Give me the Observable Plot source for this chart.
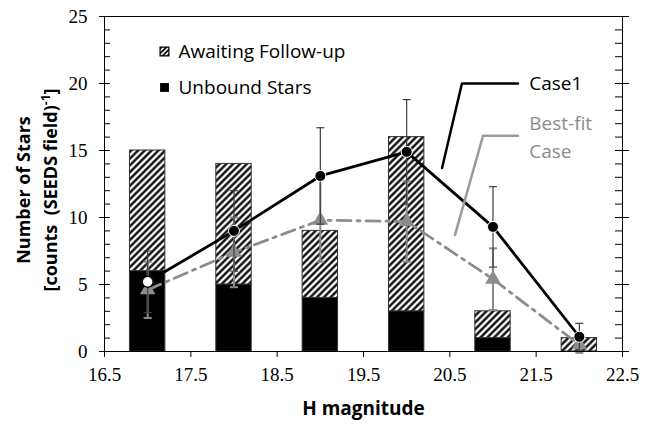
<!DOCTYPE html>
<html><head><meta charset="utf-8">
<script src="https://cdn.jsdelivr.net/npm/d3@7"></script>
<script src="https://cdn.jsdelivr.net/npm/@observablehq/plot@0.6"></script>
<style>body{margin:0;background:#fff} svg{display:block;background:#fff}</style>
</head><body><div id="chart"></div>
<script>
// ---- data ----
const hMag       = [17, 18, 19, 20, 21, 22];
const unbound    = [6, 5, 4, 3, 1, 0];
const awaiting   = [9, 9, 5, 13, 2, 1];
const case1      = [5.2, 9.0, 13.1, 14.9, 9.3, 1.1];
const case1Err   = [2.3, 3.0, 3.6, 3.9, 3.0, 1.0];
const bestFit    = [4.6, 7.4, 9.8, 9.7, 5.4, 0.5];
const bestFitErr = [2.1, 2.6, 3.1, 3.0, 2.3, 0.6];
const xTicks = [16.5, 17.5, 18.5, 19.5, 20.5, 21.5, 22.5];
const yTicks = [0, 5, 10, 15, 20, 25];
const yMinor = [1,2,3,4,6,7,8,9,11,12,13,14,16,17,18,19,21,22,23,24];
const legendLabels = ["Awaiting Follow-up", "Unbound Stars"];
const case1Label = "Case1";
const bestLabel = "Best-fit\nCase";
// annotation leader lines in data coordinates
const case1Leader = [[21.29, 20.0], [20.64, 20.0], [20.41, 13.7]];
const bestLeader  = [[21.29, 16.1], [20.885, 16.1], [20.56, 8.7]];

const rows = hMag.map((h, i) => ({
  h, unbound: unbound[i], total: unbound[i] + awaiting[i],
  c1: case1[i], c1lo: case1[i] - case1Err[i], c1hi: case1[i] + case1Err[i],
  bf: bestFit[i], bflo: bestFit[i] - bestFitErr[i], bfhi: bestFit[i] + bestFitErr[i]
}));

const half = 0.205;
const cap = {draw(ctx, size) { const w = Math.sqrt(size / Math.PI); ctx.moveTo(-w, 0); ctx.lineTo(w, 0); }};
const sans = "Open Sans";
const serif = "Liberation Serif";
const grayLine = "#8c8c8c";
const noText = () => "";

const plot = Plot.plot({
  width: 654, height: 429,
  marginLeft: 104, marginRight: 32, marginTop: 16, marginBottom: 78,
  style: {fontFamily: serif, fontSize: "19px", color: "black", background: "white"},
  x: {domain: [16.5, 22.5]},
  y: {domain: [0, 25]},
  marks: [
    Plot.rect(rows, {x1: d => d.h - half, x2: d => d.h + half, y1: 0, y2: "unbound", fill: "black", stroke: "#333", strokeWidth: 1}),
    Plot.rect(rows, {x1: d => d.h - half, x2: d => d.h + half, y1: "unbound", y2: "total", fill: "url(#hatch)", stroke: "#333", strokeWidth: 1}),
    // best-fit error bars
    Plot.ruleX(rows, {x: "h", y1: "bflo", y2: "bfhi", stroke: "#8a8a8a", strokeWidth: 2}),
    Plot.dot(rows, {x: "h", y: "bflo", symbol: cap, r: 4, stroke: "#8a8a8a", strokeWidth: 2, fill: "none"}),
    Plot.dot(rows, {x: "h", y: "bfhi", symbol: cap, r: 4, stroke: "#8a8a8a", strokeWidth: 2, fill: "none"}),
    // best-fit line
    Plot.line(rows, {x: "h", y: "bf", stroke: grayLine, strokeWidth: 2.8, strokeDasharray: "14,6,3,6"}),
    Plot.dot(rows, {x: "h", y: "bf", symbol: "triangle", r: 5.8, fill: grayLine}),
    // case1 error bars
    Plot.ruleX(rows, {x: "h", y1: "c1lo", y2: "c1hi", stroke: "#404040", strokeWidth: 1.2}),
    Plot.dot(rows, {x: "h", y: "c1lo", symbol: cap, r: 4, stroke: "#404040", strokeWidth: 1.2, fill: "none"}),
    Plot.dot(rows, {x: "h", y: "c1hi", symbol: cap, r: 4, stroke: "#404040", strokeWidth: 1.2, fill: "none"}),
    // case1 line
    Plot.line(rows, {x: "h", y: "c1", stroke: "black", strokeWidth: 2.8}),
    Plot.dot(rows, {x: "h", y: "c1", r: 5.5, fill: "black", stroke: "white", strokeWidth: 1}),
    Plot.dot(rows.slice(0, 1), {x: "h", y: "c1", r: 5.5, fill: "white", stroke: "black", strokeWidth: 1.5}),
    // annotations
    Plot.line(case1Leader, {x: d => d[0], y: d => d[1], stroke: "black", strokeWidth: 2.5}),
    Plot.line(bestLeader, {x: d => d[0], y: d => d[1], stroke: "#999", strokeWidth: 2.5}),
    Plot.text([case1Label], {x: 21.42, y: 20.0, text: d => d, textAnchor: "start", fontFamily: sans, fontSize: 19, fill: "black"}),
    Plot.text([bestLabel], {x: 21.42, y: 16.15, text: d => d, textAnchor: "start", fontFamily: sans, fontSize: 19, fill: "#8c8c8c", lineHeight: 1.45}),
    // legend
    Plot.dot([0], {frameAnchor: "top-left", dx: 60, dy: 35, symbol: "square", r: 5, fill: "url(#hatch2)", stroke: "black", strokeWidth: 1.2}),
    Plot.text([legendLabels[0]], {frameAnchor: "top-left", lineAnchor: "middle", dx: 74, dy: 35, text: d => d, textAnchor: "start", fontFamily: sans, fontSize: 19}),
    Plot.dot([0], {frameAnchor: "top-left", dx: 60, dy: 71, symbol: "square", r: 5, fill: "black"}),
    Plot.text([legendLabels[1]], {frameAnchor: "top-left", lineAnchor: "middle", dx: 74, dy: 71, text: d => d, textAnchor: "start", fontFamily: sans, fontSize: 19}),
    // axes
    Plot.frame({stroke: "black", strokeWidth: 1}),
    Plot.axisX({ticks: xTicks, tickFormat: d => d.toFixed(1), tickSize: 6, tickPadding: 9.5, label: null}),
    Plot.axisY({ticks: yTicks, tickSize: 5, tickPadding: 12, label: null}),
    Plot.axisY({ticks: yTicks, tickSize: -6, tickFormat: noText, label: null}),
    Plot.axisY({ticks: yMinor, tickSize: -6, tickFormat: noText, label: null}),
    Plot.axisY({anchor: "right", ticks: yTicks, tickSize: 6, tickFormat: noText, label: null}),
    Plot.axisY({anchor: "right", ticks: yTicks, tickSize: -8, tickFormat: noText, label: null}),
    Plot.axisY({anchor: "right", ticks: yMinor, tickSize: -8, tickFormat: noText, label: null}),
    Plot.text(["H magnitude"], {frameAnchor: "bottom", lineAnchor: "middle", dy: 57, text: d => d, fontFamily: sans, fontWeight: "bold", fontSize: 19})
  ]
});

const svg = d3.select(plot);
svg.insert("defs", ":first-child").html(
  '<pattern id="hatch" patternUnits="userSpaceOnUse" width="4.8" height="4.8" patternTransform="rotate(45)">' +
  '<rect width="4.8" height="4.8" fill="white"/><line x1="2.4" y1="-1" x2="2.4" y2="5.8" stroke="black" stroke-width="2.3"/></pattern>' +
  '<pattern id="hatch2" patternUnits="userSpaceOnUse" width="3.4" height="3.4" patternTransform="rotate(45)">' +
  '<rect width="3.4" height="3.4" fill="white"/><line x1="1.7" y1="-1" x2="1.7" y2="4.4" stroke="black" stroke-width="1.6"/></pattern>'
);
// y-axis title (two lines, with superscript)
const yt = svg.append("text")
  .attr("transform", "translate(0,190) rotate(-90)")
  .attr("text-anchor", "middle")
  .attr("font-family", sans).attr("font-weight", "bold").attr("font-size", 18)
  .attr("fill", "black");
yt.append("tspan").attr("x", 0).attr("y", 30).text("Number of Stars");
const l2 = yt.append("tspan").attr("x", 0).attr("y", 57);
l2.append("tspan").text("[counts  (SEEDS field)");
l2.append("tspan").attr("dy", -7).attr("font-size", 12).text("-1");
l2.append("tspan").attr("dy", 7).text("]");

document.getElementById("chart").append(plot);
</script>
</body></html>
